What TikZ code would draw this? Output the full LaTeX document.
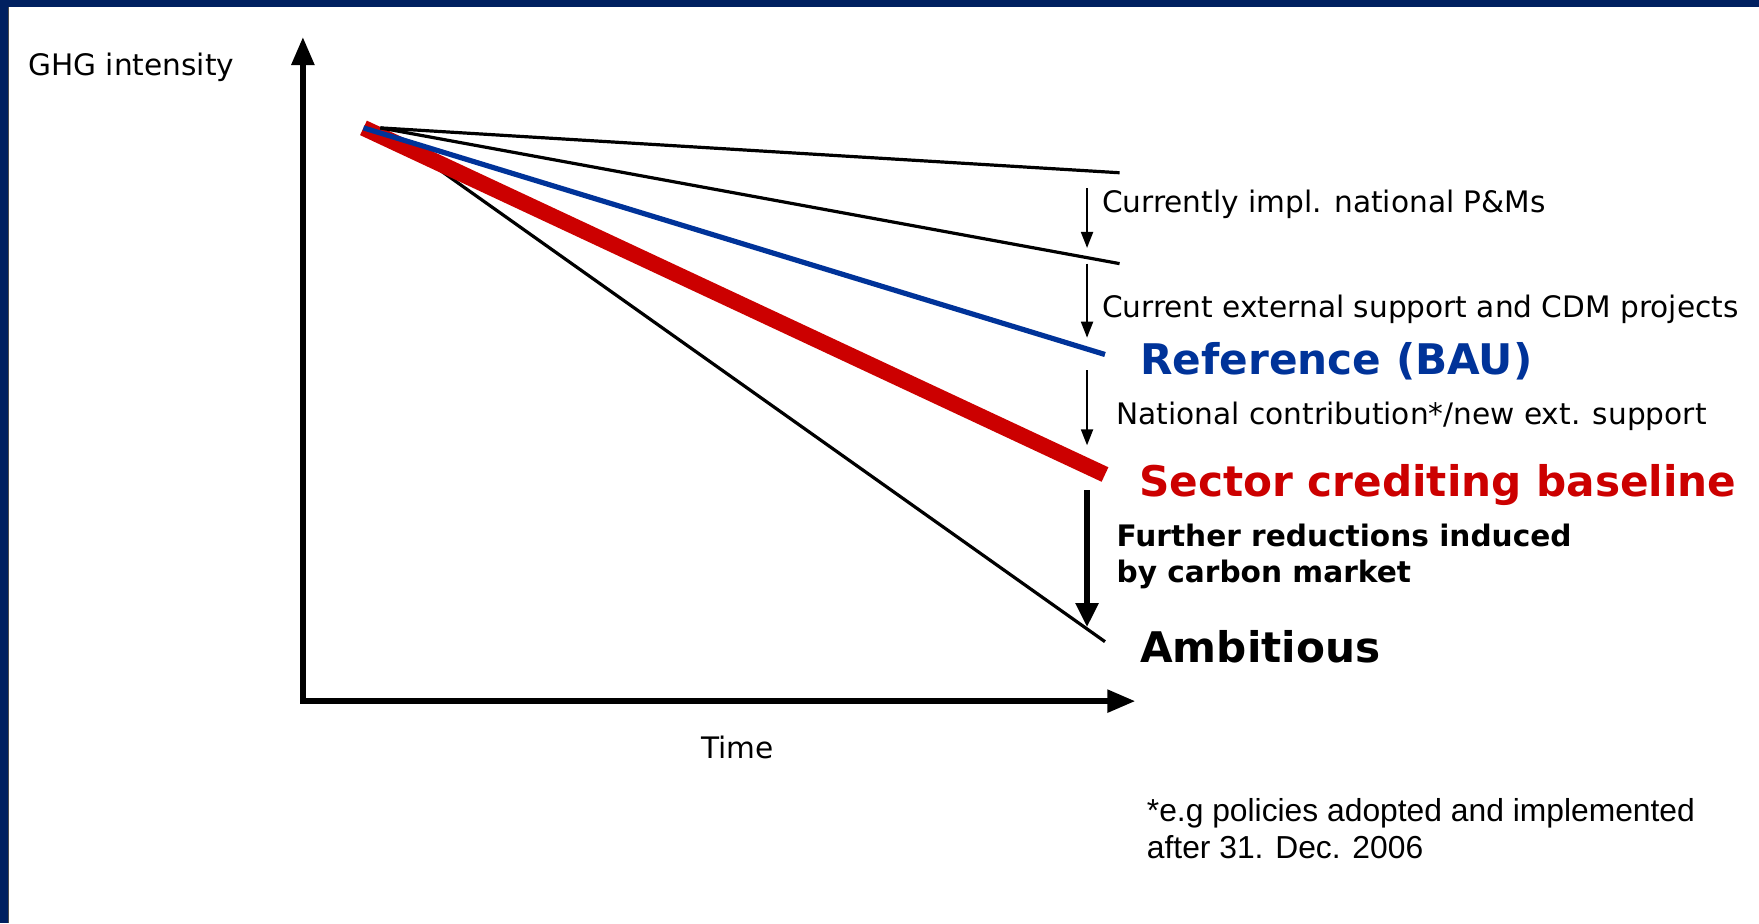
\documentclass[tikz,border=0pt]{standalone}
\usepackage{fontspec}
\setmainfont{DejaVu Sans}
\newfontfamily\notefont{Liberation Sans}
\usetikzlibrary{arrows.meta}
\definecolor{navy}{RGB}{0,32,96}
\definecolor{refblue}{RGB}{0,51,153}
\definecolor{basered}{RGB}{204,0,0}
\tikzset{
  axis/.style={line width=2.8pt,-{Triangle[length=14pt,width=11pt]}},
  pathline/.style={line width=1.6pt},
  thinarrow/.style={line width=1pt,-{Triangle[length=8pt,width=6pt]}},
  thickarrow/.style={line width=2.8pt,-{Triangle[length=12pt,width=11pt]}},
  lbl/.style={anchor=base west,inner sep=0pt,font=\fontsize{14.8}{18}\selectfont},
  biglbl/.style={anchor=base west,inner sep=0pt,font=\fontsize{21.1}{25}\selectfont\bfseries},
}
\begin{document}
\begin{tikzpicture}[x=0.5609pt,y=-0.5609pt]
\useasboundingbox (0,0) rectangle (1568,822.8);
\fill[white] (0,0) rectangle (1568,822.8);
% frame
\fill[navy] (0,0) rectangle (1568,6.5);
\fill[navy] (0,0) rectangle (7,822.8);
\draw[black!70,line width=0.6pt] (7.5,6.5) -- (7.5,822.8);
% coordinates
\coordinate (O) at (270,625);
\coordinate (ytip) at (270,33);
\coordinate (xtip) at (1012,625);
\coordinate (s0) at (339,114);
\coordinate (s1) at (324,114);
\coordinate (e1) at (998,154);
\coordinate (e2) at (998,235);
\coordinate (e3) at (985,316);
\coordinate (e4) at (985,423);
\coordinate (e5) at (985,572);
\coordinate (a1s) at (969,168);
\coordinate (a1e) at (969,221);
\coordinate (a2s) at (969,235);
\coordinate (a2e) at (969,301);
\coordinate (a3s) at (969,330);
\coordinate (a3e) at (969,397);
\coordinate (a4s) at (969,437);
\coordinate (a4e) at (969,559);
% axes
\draw[axis] (O) -- (ytip);
\draw[axis] ([xshift=-1.4pt]O) -- (xtip);
% scenario lines
\draw[pathline] (s0) -- (e5);
\draw[basered,line width=8pt] (s1) -- (e4);
\draw[refblue,line width=2.6pt] (s1) -- (e3);
\draw[pathline] (s0) -- (e2);
\draw[pathline] (s0) -- (e1);
% arrows
\draw[thinarrow] (a1s) -- (a1e);
\draw[thinarrow] (a2s) -- (a2e);
\draw[thinarrow] (a3s) -- (a3e);
\draw[thickarrow] (a4s) -- (a4e);
% labels
\node[lbl] (ghg) at (25,67) {GHG intensity};
\node[lbl] (time) at (625,676) {Time};
\node[lbl] (t1) at (982,189) {Currently impl. national P\&Ms};
\node[lbl] (t2) at (982,283) {Current external support and CDM projects};
\node[biglbl,text=refblue] (ref) at (1016,334) {Reference (BAU)};
\node[lbl] (t3) at (995,378) {National contribution*/new ext. support};
\node[biglbl,text=basered] (scb) at (1015,443) {Sector crediting baseline};
\node[lbl,font=\fontsize{14.8}{18}\selectfont\bfseries,align=left,anchor=north west] (t4) at (995,467) {Further reductions induced\\by carbon market};
\node[biglbl] (amb) at (1016,591) {Ambitious};
\node[anchor=north west,inner sep=0pt,align=left,font=\notefont\fontsize{15.9}{18.5}\selectfont] (note) at (1022,711) {*e.g policies adopted and implemented\\after 31. Dec. 2006};
\end{tikzpicture}
\end{document}
